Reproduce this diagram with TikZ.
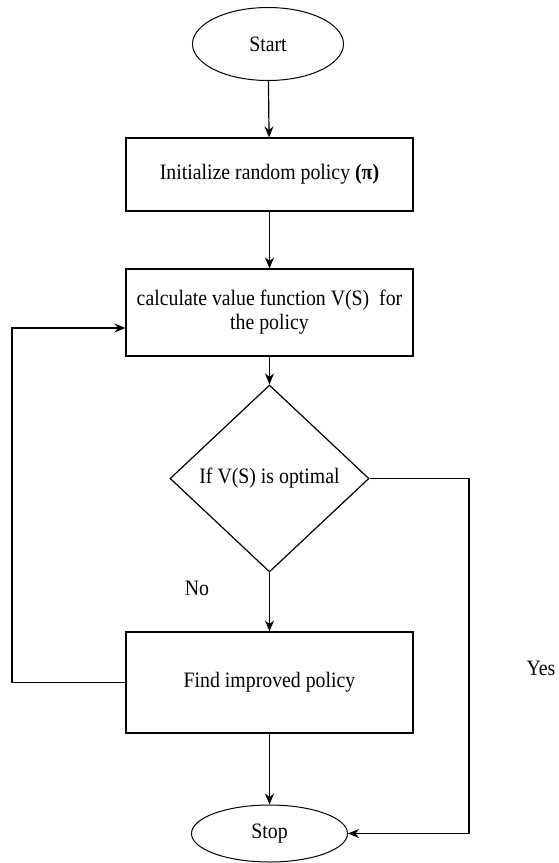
\documentclass[tikz,border=0pt]{standalone}
\usepackage{fontspec}
\setmainfont{Liberation Serif}[FakeStretch=0.9]
\usepackage{tikz}
\usetikzlibrary{shapes.geometric,arrows.meta}
\usetikzlibrary{calc}

\begin{document}
\begin{tikzpicture}[x=1pt,y=-1pt,
    every node/.style={font=\fontsize{22}{24}\selectfont},
    terminal/.style={draw,ellipse,line width=1pt,inner sep=0pt},
    process/.style={draw,rectangle,line width=1.2pt,minimum width=287pt,align=center},
    decision/.style={draw,diamond,line width=1.2pt,inner sep=0pt,minimum width=199pt,minimum height=187pt},
    flow/.style={line width=1.2pt,-{Stealth[length=11pt,width=9pt]}}
]

% Page frame
\useasboundingbox (0,0) rectangle (559,863);

% Start and first step
\node[terminal,minimum width=151pt,minimum height=73pt] (start) at (268,44) {Start};
\node[process,minimum height=73pt] (init) at (269.5,174.5) {Initialize random policy \textbf{(π)}};

% Value function
\node[process,minimum height=87pt] (calc) at (269.5,312.5) {calculate value function V(S)\ \ for\\the policy};

% Optimality test
\node[decision] (check) at (269.5,478.5) {If V(S) is optimal};
\node (no) at (197,588) {No};

% Policy improvement and end
\node[process,minimum height=101pt] (improve) at (269.5,682.5) {Find improved policy};
\node[terminal,minimum width=156pt,minimum height=57pt] (stop) at (269.5,833.5) {Stop};
\node (yes) at (541,668) {Yes};

% Main line
\draw[flow] (start) -- (init);
\draw[flow] (init) -- (calc);
\draw[flow] (calc) -- (check);
\draw[flow] (check) -- (improve);
\draw[flow] (improve) -- (stop);

% loop back
\coordinate (loopbend) at (12,682.5);
\draw[flow] (improve.west) -- (loopbend) |- ([yshift=-15.5pt]calc.west);

% yes branch
\coordinate (yesbend) at (469,478.5);
\draw[flow] (check.east) -- (yesbend) |- (stop.east);

\end{tikzpicture}
\end{document}
